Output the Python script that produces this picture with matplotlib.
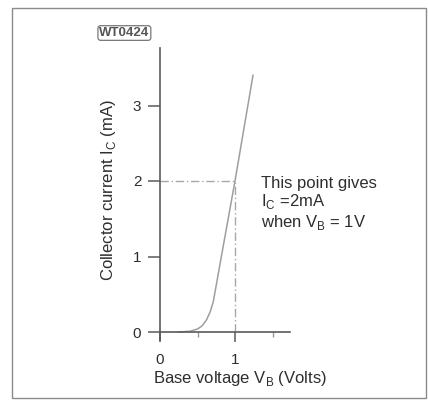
import numpy as np
import matplotlib.pyplot as plt
from matplotlib.patches import Rectangle

plt.rcParams['font.family'] = ['Liberation Sans', 'DejaVu Sans']
plt.rcParams['mathtext.fontset'] = 'custom'
plt.rcParams['mathtext.rm'] = 'Liberation Sans'

# transistor characteristic
vb = [0.25, 0.40, 0.50, 0.56, 0.62, 0.67, 0.71, 0.75, 0.80, 1.00, 1.24]
ic = [0.00, 0.01, 0.04, 0.08, 0.16, 0.27, 0.40, 0.62, 0.90, 2.00, 3.40]
yticks = [0, 1, 2, 3]
xticks = [0, 1]
point_v = 1.0
point_i = 2.0

W, H = 428, 403
x0, y0 = 160, 332   # pixel position of the origin
sx, sy = 75.0, 75.5  # pixels per unit

fig = plt.figure(figsize=(W / 100, H / 100), dpi=100)
ax = fig.add_axes([0, 0, 1, 1])
ax.set_xlim(-x0 / sx, (W - x0) / sx)
ax.set_ylim(-(H - y0) / sy, y0 / sy)
ax.patch.set_alpha(0)

axc = '#5a5a5a'
txt = '#2e2e2e'

# outer frame
fig.patches.append(Rectangle((12 / W, 1 - 398 / H), (426 - 12) / W, (398 - 8) / H,
                             transform=fig.transFigure, fill=False,
                             edgecolor='#8a8a8a', linewidth=1.0))

for s in ['top', 'right']:
    ax.spines[s].set_visible(False)
ax.spines['left'].set_position(('data', 0))
ax.spines['bottom'].set_position(('data', 0))
ax.spines['left'].set_bounds(-0.1, 3.76)
ax.spines['bottom'].set_bounds(0, 1.73)
for s in ['left', 'bottom']:
    ax.spines[s].set_color(axc)
    ax.spines[s].set_linewidth(1.2)

ax.set_yticks(yticks)
ax.set_xticks(xticks)
ax.set_xticks([0.5, 1.5], minor=True)
ax.tick_params(axis='y', direction='out', length=8.5, width=1.1, color=axc,
               labelsize=11, labelcolor=txt, pad=5)
ax.tick_params(axis='x', which='major', direction='out', length=7, width=1.1,
               color=axc, labelsize=11, labelcolor=txt, pad=8)
ax.tick_params(axis='x', which='minor', direction='out', length=3.5, width=1,
               color='#999999')

ax.plot(vb, ic, color='#9e9e9e', linewidth=1.1)
ax.plot([0, point_v], [point_i, point_i], color='#a8a8a8', linewidth=1,
        linestyle=(0, (6, 2, 1, 2)))
ax.plot([point_v, point_v], [0, point_i], color='#a8a8a8', linewidth=1,
        linestyle=(0, (6, 2, 1, 2)))

ax.text(-0.69, 1.88, r'Collector current I$_\mathregular{C}$ (mA)', rotation=90,
        ha='center', va='center', fontsize=12, color=txt)
ax.text(1.07, -0.61, r'Base voltage V$_\mathregular{B}$ (Volts)',
        ha='center', va='center', fontsize=12, color=txt)

ax.text(1.35, 2.07, 'This point gives\n' + r'I$_\mathregular{C}$ =2mA' + '\n'
        + r'when V$_\mathregular{B}$ = 1V', ha='left', va='top',
        fontsize=12, color=txt, linespacing=1.12)

ax.text(-0.81, 3.96, 'WT0424', fontsize=9.5, color='#555555', ha='left',
        va='center', fontweight='bold',
        bbox=dict(boxstyle='round,pad=0.1,rounding_size=0.2', fc='white',
                  ec='#777777', lw=0.9))

fig.savefig('out.png', dpi=100)
